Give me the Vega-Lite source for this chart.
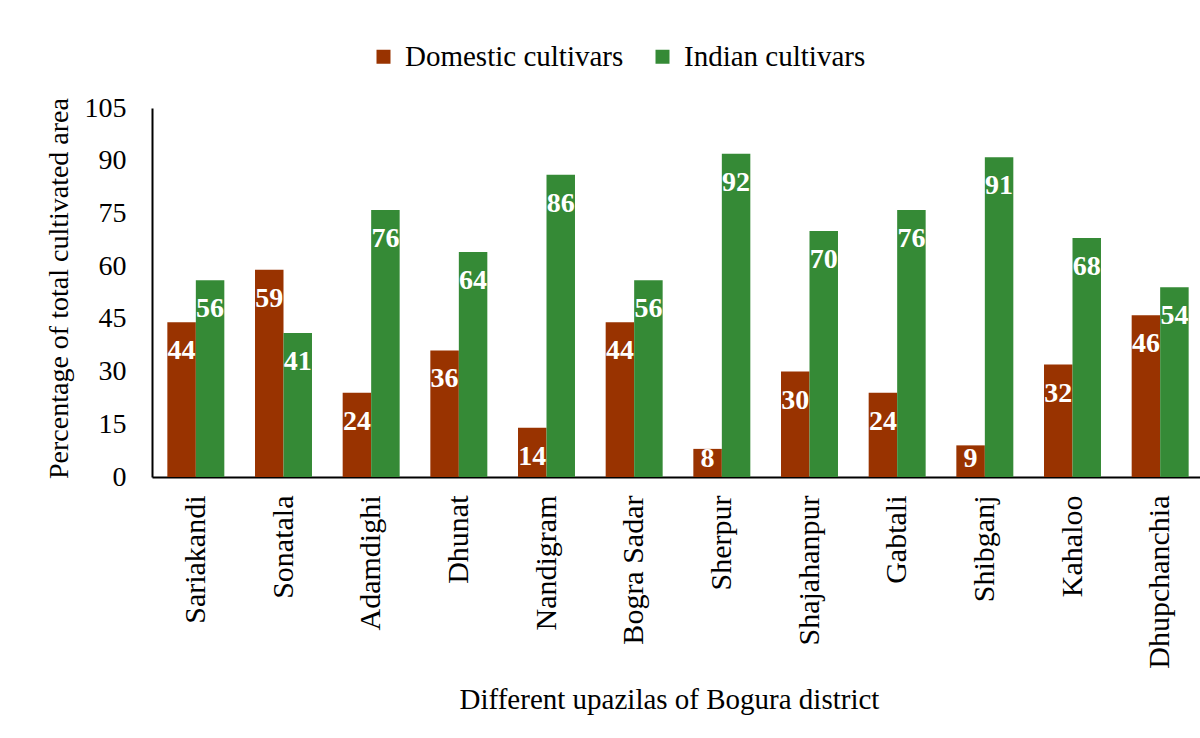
{
  "$schema": "https://vega.github.io/schema/vega-lite/v6.json",
  "width": 1052,
  "height": 369,
  "autosize": {"type": "none"},
  "padding": {"left": 152, "top": 108, "right": 0, "bottom": 261},
  "background": "white",
  "config": {
    "font": "Liberation Serif",
    "view": {"stroke": null},
    "axis": {
      "domainColor": "black",
      "domainWidth": 2,
      "ticks": false,
      "grid": false,
      "labelColor": "black",
      "titleColor": "black",
      "titleFontWeight": "normal",
      "labelFontSize": 28,
      "titleFontSize": 28,
      "labelLimit": 0
    },
    "legend": {
      "labelFontSize": 29,
      "labelColor": "black",
      "labelLimit": 0,
      "symbolType": "square",
      "symbolSize": 196,
      "symbolStrokeWidth": 0
    }
  },
  "data": {
    "values": [
      {"Upazila": "Sariakandi", "Cultivar": "Domestic cultivars", "Value": 44},
      {"Upazila": "Sariakandi", "Cultivar": "Indian cultivars", "Value": 56},
      {"Upazila": "Sonatala", "Cultivar": "Domestic cultivars", "Value": 59},
      {"Upazila": "Sonatala", "Cultivar": "Indian cultivars", "Value": 41},
      {"Upazila": "Adamdighi", "Cultivar": "Domestic cultivars", "Value": 24},
      {"Upazila": "Adamdighi", "Cultivar": "Indian cultivars", "Value": 76},
      {"Upazila": "Dhunat", "Cultivar": "Domestic cultivars", "Value": 36},
      {"Upazila": "Dhunat", "Cultivar": "Indian cultivars", "Value": 64},
      {"Upazila": "Nandigram", "Cultivar": "Domestic cultivars", "Value": 14},
      {"Upazila": "Nandigram", "Cultivar": "Indian cultivars", "Value": 86},
      {"Upazila": "Bogra Sadar", "Cultivar": "Domestic cultivars", "Value": 44},
      {"Upazila": "Bogra Sadar", "Cultivar": "Indian cultivars", "Value": 56},
      {"Upazila": "Sherpur", "Cultivar": "Domestic cultivars", "Value": 8},
      {"Upazila": "Sherpur", "Cultivar": "Indian cultivars", "Value": 92},
      {"Upazila": "Shajahanpur", "Cultivar": "Domestic cultivars", "Value": 30},
      {"Upazila": "Shajahanpur", "Cultivar": "Indian cultivars", "Value": 70},
      {"Upazila": "Gabtali", "Cultivar": "Domestic cultivars", "Value": 24},
      {"Upazila": "Gabtali", "Cultivar": "Indian cultivars", "Value": 76},
      {"Upazila": "Shibganj", "Cultivar": "Domestic cultivars", "Value": 9},
      {"Upazila": "Shibganj", "Cultivar": "Indian cultivars", "Value": 91},
      {"Upazila": "Kahaloo", "Cultivar": "Domestic cultivars", "Value": 32},
      {"Upazila": "Kahaloo", "Cultivar": "Indian cultivars", "Value": 68},
      {"Upazila": "Dhupchanchia", "Cultivar": "Domestic cultivars", "Value": 46},
      {"Upazila": "Dhupchanchia", "Cultivar": "Indian cultivars", "Value": 54}
    ]
  },
  "encoding": {
    "x": {
      "field": "Upazila",
      "type": "nominal",
      "sort": null,
      "scale": {"paddingInner": 0.35, "paddingOuter": 0.175},
      "title": "Different upazilas of Bogura district",
      "axis": {
        "labelAngle": -90,
        "labelFontSize": 30,
        "labelPadding": 18,
        "labelAlign": "right",
        "labelBaseline": "middle",
        "titleX": 517,
        "titleY": 231,
        "titleAlign": "center",
        "titleBaseline": "alphabetic",
        "titleFontSize": 29
      }
    },
    "xOffset": {
      "field": "Cultivar",
      "type": "nominal",
      "sort": ["Domestic cultivars", "Indian cultivars"]
    },
    "y": {
      "field": "Value",
      "type": "quantitative",
      "scale": {"domain": [0, 105], "nice": false},
      "title": "Percentage of total cultivated area",
      "axis": {
        "values": [0, 15, 30, 45, 60, 75, 90, 105],
        "labelPadding": 26,
        "titleX": -85,
        "titleY": 180,
        "titleAlign": "center",
        "titleBaseline": "alphabetic"
      }
    }
  },
  "layer": [
    {
      "mark": {"type": "bar"},
      "encoding": {
        "color": {
          "field": "Cultivar",
          "type": "nominal",
          "sort": ["Domestic cultivars", "Indian cultivars"],
          "scale": {
            "domain": ["Domestic cultivars", "Indian cultivars"],
            "range": ["#993300", "#358a36"]
          },
          "legend": {
            "title": null,
            "orient": "none",
            "direction": "horizontal",
            "legendX": 217,
            "legendY": -66,
            "padding": 0,
            "labelOffset": 7,
            "columnPadding": 24
          }
        }
      }
    },
    {
      "mark": {
        "type": "text",
        "fontSize": 28,
        "fontWeight": "bold",
        "fill": "white",
        "align": "center",
        "baseline": "alphabetic",
        "dy": {"expr": "min(37, datum.Value * 369 / 105 - 10)"}
      },
      "encoding": {
        "text": {"field": "Value", "type": "quantitative"}
      }
    }
  ]
}
